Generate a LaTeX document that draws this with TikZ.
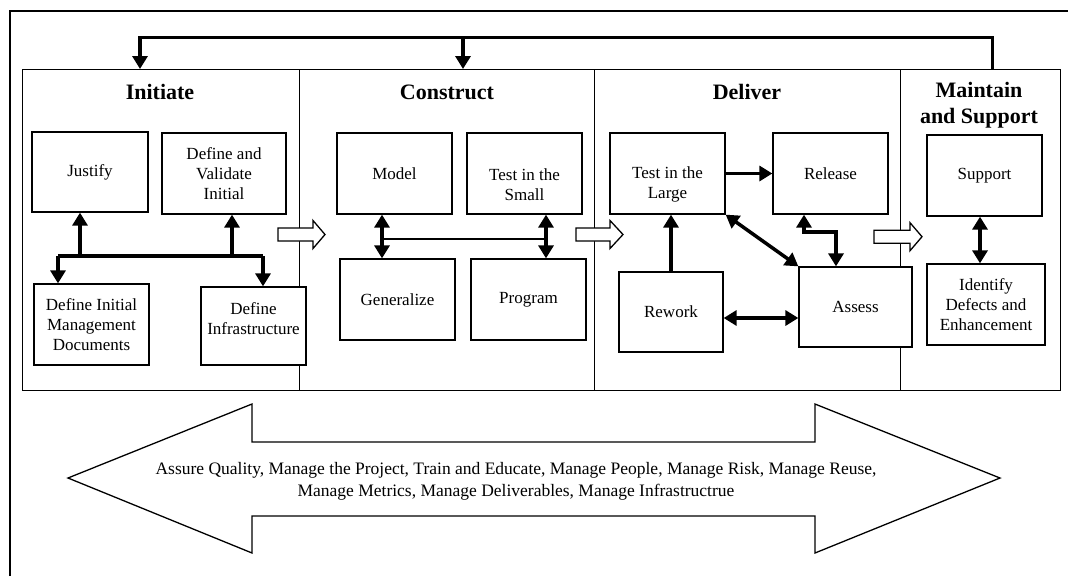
\documentclass[tikz,border=0pt]{standalone}
\usepackage{fontspec}
\setmainfont{Liberation Serif}
\usetikzlibrary{arrows.meta,calc}
\begin{document}
\begin{tikzpicture}[x=1pt,y=-1pt,
  >={Triangle[width=15pt,length=13pt]},
  frame/.style={line width=1.3pt},
  phase/.style={draw,line width=1.3pt,minimum height=321pt,inner sep=0pt,anchor=north west},
  heading/.style={font=\fontsize{22}{26}\selectfont\bfseries,align=center,inner sep=0pt},
  task/.style={draw,fill=white,line width=1.3pt,align=center,inner sep=0pt,
    font=\fontsize{17}{20}\selectfont,minimum width=115pt,minimum height=81pt},
  link/.style={line width=3.5pt},
  hollow/.style={draw,fill=white,line width=1.3pt,line join=miter},
]
\useasboundingbox (0,0) rectangle (1068,576);

% outer frame (open at right and bottom)
\draw[frame] (10,576) -- (10,11) -- (1068,11);

% phase columns
\node[phase,minimum width=277.3pt] (pInit) at (21.7,69) {};
\node[phase,minimum width=295pt]   (pCons) at (299,69) {};
\node[phase,minimum width=306pt]   (pDel)  at (594,69) {};
\node[phase,minimum width=160pt]   (pMain) at (900,69) {};

\node[heading] (hInit) at (160,92) {Initiate};
\node[heading] (hCons) at (447,92) {Construct};
\node[heading] (hDel)  at (747,92) {Deliver};
\node[heading] (hMain) at (979,105) {Maintain\\and Support};

% feedback loop along the top
\coordinate (fbR) at ($(pMain.north)+(12,0)$);
\coordinate (fbTopR) at (fbR |- 0,37.7);
\coordinate (fbTopL) at (140,37.7);
\coordinate (fbTopM) at (463,37.7);
\draw[link,->,line join=miter] (fbR) -- (fbTopR) -- (fbTopL) -- (fbTopL |- pInit.north);
\draw[link,->] (fbTopM) -- (fbTopM |- pCons.north);

% hollow arrows between phases
\newcommand{\hollowarrow}[4]{%
  \draw[hollow] (#1,#4-6.5) -- (#2,#4-6.5) -- (#2,#4-14) -- (#3,#4) --
    (#2,#4+14) -- (#2,#4+6.5) -- (#1,#4+6.5) -- cycle;}
\hollowarrow{278}{313}{325}{234.5}
\hollowarrow{576}{610}{623}{234.5}
\hollowarrow{874}{910}{922}{236.7}

% Initiate
\node[task,minimum width=116pt,minimum height=80pt] (justify) at (90,172) {Justify};
\node[task,minimum width=124pt] (dvi) at (224,173.5) {Define and\\Validate\\Initial};
\node[task] (dimd) at (91.5,324.5) {Define Initial\\Management\\Documents};
\node[task,minimum width=105pt,minimum height=78pt] (dinf) at (253.5,326)
  {Define\\Infrastructure\rule[-14pt]{0pt}{14pt}};

\coordinate (jL) at (58,256);
\coordinate (jR) at (263,256);
\coordinate (jJ) at (80,256);
\coordinate (jD) at (232,256);
\draw[link] (jL) -- (jR);
\draw[link,->] (jL) -- (jL |- dimd.north);
\draw[link,->] (jR) -- (jR |- dinf.north);
\draw[link,->] (jJ) -- (jJ |- justify.south);
\draw[link,->] (jD) -- (jD |- dvi.south);

% Construct
\node[task] (model) at (394.5,173.5) {Model};
\node[task] (tsmall) at (524.5,173.5) {\strut\\Test in the\\Small};
\node[task] (gen) at (397.5,299.5) {Generalize};
\node[task] (prog) at (528.5,299.5) {Program};

\coordinate (cA) at (382,239);
\coordinate (cB) at (546,239);
\draw[frame] (cA) -- (cB);
\draw[link,<->] (cA |- model.south) -- (cA |- gen.north);
\draw[link,<->] (cB |- tsmall.south) -- (cB |- prog.north);

% Deliver
\node[task] (tlarge) at (667.5,173.5) {\strut\\Test in the\\Large};
\node[task] (release) at (830.5,173.5) {Release};
\node[task,minimum width=104pt,minimum height=80pt] (rework) at (671,312) {Rework};
\node[task,minimum width=113pt,minimum height=80pt] (assess) at (855.5,307) {Assess};

\draw[link,->] (tlarge.east) -- (release.west);
\draw[link,->] (rework.north) -- (rework.north |- tlarge.south);
\draw[link,<->] (tlarge.south east) -- (assess.north west);
\coordinate (rA) at (804,232);
\coordinate (rB) at (836,232);
\draw[link,<->,line join=miter] (rA |- release.south) -- (rA) -- (rB) -- (rB |- assess.north);
\coordinate (rwY) at (0,318);
\draw[link,<->] (rework.east |- rwY) -- (assess.west |- rwY);

% Maintain and Support
\node[task] (support) at (984.5,175.5) {Support};
\node[task,minimum width=118pt] (ide) at (986,304.5) {Identify\\Defects and\\Enhancement};
\coordinate (sX) at (980,0);
\draw[link,<->] (sX |- support.south) -- (sX |- ide.north);

% ongoing activities spanning all phases
\draw[frame,fill=white,line join=miter] (68,478) -- (252,404) -- (252,442) -- (815,442) -- (815,404)
  -- (1000,478) -- (815,553) -- (815,516) -- (252,516) -- (252,553) -- cycle;
\node[align=center,inner sep=0pt,font=\fontsize{17.5}{22}\selectfont] (ongoing) at (516,481)
  {Assure Quality, Manage the Project, Train and Educate, Manage People, Manage Risk, Manage Reuse,\\
   Manage Metrics, Manage Deliverables, Manage Infrastructrue};
\end{tikzpicture}
\end{document}
